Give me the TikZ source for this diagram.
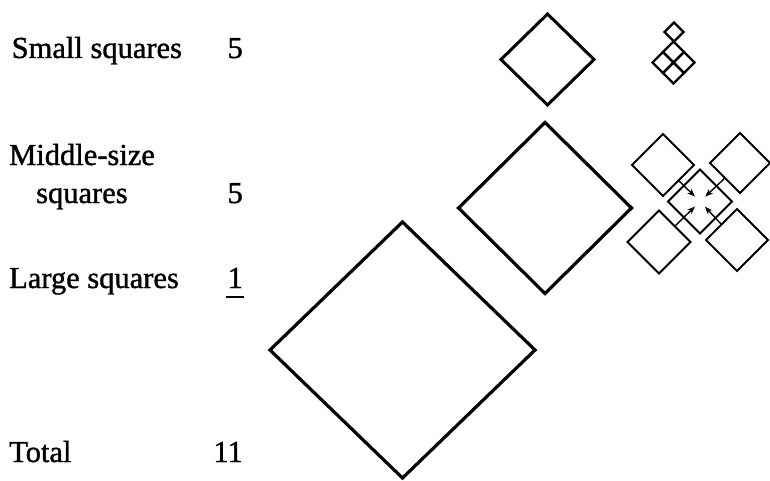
\documentclass[tikz,border=0pt]{standalone}
\usepackage{fontspec}
\setmainfont{Liberation Serif}
\newfontfamily\heavyserif{Liberation Serif}[FakeBold=1.2]
\usetikzlibrary{shapes.geometric,positioning,arrows.meta}

\begin{document}
\begin{tikzpicture}[x=1pt,y=-1pt,>={Stealth[length=8pt,width=6pt]},
      word/.style={anchor=base west,inner sep=0pt,font=\heavyserif\fontsize{30.5}{36}\selectfont},
      count/.style={anchor=base east,inner sep=0pt,font=\heavyserif\fontsize{30.5}{36}\selectfont},
      sq/.style={diamond,draw,inner sep=0pt,outer sep=0pt},
      unit/.style={sq,line width=2.2pt,minimum width=21,minimum height=21},
      part/.style={sq,line width=2pt},
      into/.style={->,line width=1.4pt,shorten >=7pt}]
      \useasboundingbox (0,0) rectangle (770,481);

      % the counts
      \node[word] (small label) at (11.5,58) {Small squares};
      \node[count] (small count) at (243,58) {5};
      \node[word] (middle label) at (9,165) {Middle-size};
      \node[word] (middle label2) at (36,203) {squares};
      \node[count] (middle count) at (243,203) {5};
      \node[word] (large label) at (9,288) {Large squares};
      \node[count] (large count) at (243,288) {1};
      \node[word] (total label) at (9,462) {Total};
      \node[count] (total count) at (243,462) {11};
      \draw[line width=2.6pt] ([xshift=-1pt,yshift=-9pt]large count.base west)
        -- ([xshift=1pt,yshift=-9pt]large count.base east);

      % the three sizes
      \node[sq,line width=3pt,minimum width=93,minimum height=91] (small) at (547.5,59.5) {};
      \node[sq,line width=3.2pt,minimum width=173,minimum height=171] (middle) at (545,208) {};
      \node[sq,line width=3.2pt,minimum width=265,minimum height=256] (large) at (402.5,350) {};

      % five small squares
      \node[unit,minimum width=19,minimum height=19] (s0) at (674,32) {};
      \node[unit] (s1) at (673.5,52) {};
      \node[unit] (s2) at (663,62.5) {};
      \node[unit] (s3) at (684,62.5) {};
      \node[unit] (s4) at (673.5,73) {};

      % five middle-size squares
      \node[part,minimum width=62,minimum height=62] (ul) at (663,165) {};
      \node[part,minimum width=60,minimum height=60] (ur) at (740,163) {};
      \node[part,minimum width=64,minimum height=64] (mc) at (700,201.5) {};
      \node[part,minimum width=63,minimum height=63] (ll) at (659,242) {};
      \node[part,minimum width=62,minimum height=62] (lr) at (737,240) {};

      \draw[into] (ul.south east) -- (mc.center);
      \draw[into] (ur.south west) -- (mc.center);
      \draw[into] (ll.north east) -- (mc.center);
      \draw[into] (lr.north west) -- (mc.center);
\end{tikzpicture}
\end{document}
